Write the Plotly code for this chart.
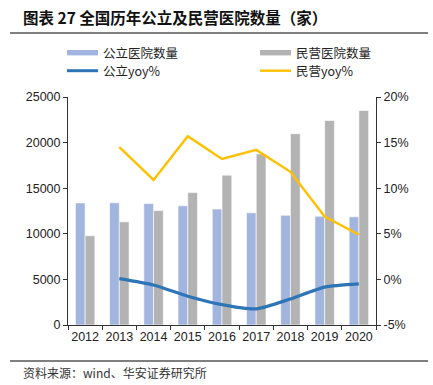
import plotly.graph_objects as go

years = ["2012", "2013", "2014", "2015", "2016", "2017", "2018", "2019", "2020"]
public_cnt = [13384, 13396, 13314, 13069, 12708, 12297, 12032, 11930, 11870]
private_cnt = [9786, 11313, 12546, 14518, 16432, 18759, 20977, 22424, 23524]
public_yoy = [None, 0.0009, -0.0061, -0.0184, -0.0276, -0.0323, -0.0215, -0.0085, -0.0050]
private_yoy = [None, 0.145, 0.109, 0.157, 0.132, 0.142, 0.118, 0.069, 0.049]

left_ticks = [0, 5000, 10000, 15000, 20000, 25000]
right_ticks = [-0.05, 0.0, 0.05, 0.10, 0.15, 0.20]
right_labels = ["-5%", "0%", "5%", "10%", "15%", "20%"]

title_text = "图表 27 全国历年公立及民营医院数量（家）"
source_text = "资料来源：wind、华安证券研究所"
names = ["公立医院数量", "民营医院数量", "公立yoy%", "民营yoy%"]

C_PUB = "#A2B5DF"
C_PRI = "#B3B3B3"
C_PUBL = "#2E75B6"
C_PRIL = "#FFC000"

W, H = 433, 385
L, R, T, B = 68, 57, 97, 60
PW, PH = W - L - R, H - T - B

def px(x):
    return (x - L) / PW

def py(y):
    return (H - B - y) / PH

fig = go.Figure()
fig.add_trace(go.Bar(x=years, y=public_cnt, name=names[0], marker=dict(color=C_PUB, line=dict(color="white", width=0.6)), showlegend=False))
fig.add_trace(go.Bar(x=years, y=private_cnt, name=names[1], marker=dict(color=C_PRI, line=dict(color="white", width=0.6)), showlegend=False))
fig.add_trace(go.Scatter(x=years, y=public_yoy, name=names[2], mode="lines", yaxis="y2",
                         line=dict(color=C_PUBL, width=3.2, shape="spline", smoothing=0.6), showlegend=False))
fig.add_trace(go.Scatter(x=years, y=private_yoy, name=names[3], mode="lines", yaxis="y2",
                         line=dict(color=C_PRIL, width=2.4), showlegend=False))

tickfont = dict(family="Liberation Sans, Arial", size=12.5, color="#222")
fig.update_layout(
    width=W, height=H,
    margin=dict(l=L, r=R, t=T, b=B, pad=0, autoexpand=False),
    paper_bgcolor="white", plot_bgcolor="white",
    barmode="group", bargap=0.43, bargroupgap=0.0,
    xaxis=dict(type="category", showline=True, linecolor="#333", linewidth=1, ticks="outside",
               tickson="boundaries", ticklen=4, tickcolor="#333", tickfont=tickfont, showgrid=False,
               tickangle=0, automargin=False),
    yaxis=dict(range=[0, 25000], tickvals=left_ticks, ticktext=[str(v) for v in left_ticks],
               showline=True, linecolor="#333", linewidth=1, automargin=False,
               ticks="outside", ticklen=4, tickcolor="#333", tickfont=tickfont, showgrid=False, zeroline=False),
    yaxis2=dict(range=[-0.05, 0.20], tickvals=right_ticks, ticktext=right_labels, overlaying="y", side="right",
                showline=True, linecolor="#333", linewidth=1, ticks="outside", ticklen=4, tickcolor="#333",
                tickfont=tickfont, showgrid=False, zeroline=False, automargin=False),
    showlegend=False,
)

shapes = []
annotations = []
shapes.append(dict(type="line", xref="paper", yref="paper", x0=px(10), x1=px(428), y0=py(33), y1=py(33),
                   line=dict(color="#555", width=1.5)))
shapes.append(dict(type="line", xref="paper", yref="paper", x0=px(10), x1=px(428), y0=py(361), y1=py(361),
                   line=dict(color="#555", width=1.5)))
annotations.append(dict(text="<b>" + title_text + "</b>", xref="paper", yref="paper", x=px(21), y=py(17),
                        xanchor="left", yanchor="middle", showarrow=False,
                        font=dict(family="Noto Sans CJK SC", size=15.5, color="#111")))
annotations.append(dict(text=source_text, xref="paper", yref="paper", x=px(21), y=py(372),
                        xanchor="left", yanchor="middle", showarrow=False,
                        font=dict(family="Noto Sans CJK SC", size=12, color="#333")))

leg = [
    (67, 52.7, "bar", C_PUB, names[0]),
    (260, 52.7, "bar", C_PRI, names[1]),
    (67, 70.7, "line", C_PUBL, names[2]),
    (260, 70.7, "line", C_PRIL, names[3]),
]
for x0, yc, kind, col, nm in leg:
    if kind == "bar":
        shapes.append(dict(type="rect", xref="paper", yref="paper", x0=px(x0), x1=px(x0 + 31),
                           y0=py(yc + 2.7), y1=py(yc - 2.7), fillcolor=col, line=dict(width=0)))
    else:
        shapes.append(dict(type="line", xref="paper", yref="paper", x0=px(x0), x1=px(x0 + 31),
                           y0=py(yc), y1=py(yc), line=dict(color=col, width=3 if col == C_PUBL else 2.4)))
    annotations.append(dict(text=nm, xref="paper", yref="paper", x=px(x0 + 34), y=py(yc),
                            xanchor="left", yanchor="middle", showarrow=False,
                            font=dict(family="Noto Sans CJK SC, Liberation Sans", size=12.5, color="#222")))

fig.update_layout(shapes=shapes, annotations=annotations)
fig.write_html("out.html", config={"displayModeBar": False},
               post_script="document.body.style.margin='0';document.body.style.overflow='hidden';")
